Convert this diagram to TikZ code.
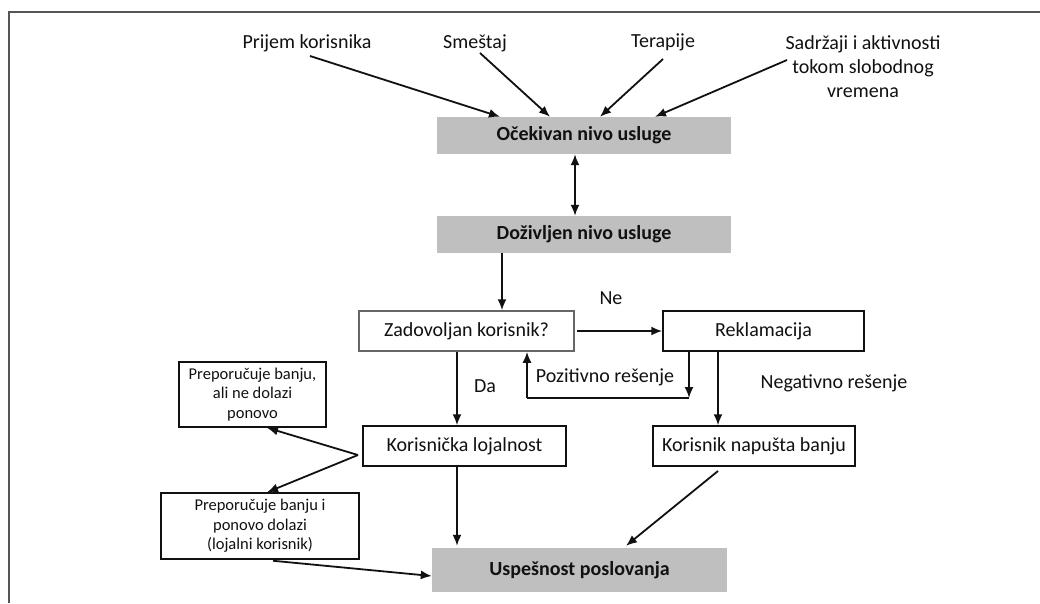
\documentclass[tikz,border=0pt]{standalone}
\usepackage{fontspec}
\setmainfont{Carlito}
\usetikzlibrary{arrows.meta}
\definecolor{boxgray}{HTML}{BFBFBF}
\definecolor{framegray}{HTML}{555555}
\definecolor{txt}{HTML}{111111}
\tikzset{
  arr/.style={line width=1.8pt, draw=txt, -{Latex[length=11pt,width=9pt]}},
  plain/.style={line width=1.8pt, draw=txt},
  graybox/.style={fill=boxgray, draw=none, inner sep=0pt, text=txt, font=\fontsize{20}{24}\selectfont\bfseries},
  wbox/.style={draw=txt, line width=1.5pt, fill=white, inner sep=0pt, text=txt, font=\fontsize{20}{24}\selectfont},
  sbox/.style={draw=txt, line width=1.5pt, fill=white, inner sep=0pt, text=txt, align=center, font=\fontsize{16.5}{19.5}\selectfont},
  lbl/.style={inner sep=0pt, text=txt, align=center, font=\fontsize{20}{24}\selectfont}
}
\begin{document}
\begin{tikzpicture}[x=1pt,y=-1pt]
\useasboundingbox (0,0) rectangle (1040,603);
\fill[white] (0,0) rectangle (1040,603);
% frame (left and top only)
\draw[framegray, line width=1.8pt] (9,603) -- (9,12) -- (1040,12);

% top labels
\node[lbl] (pk) at (307,43) {Prijem korisnika};
\node[lbl] (sm) at (475,43) {Smeštaj};
\node[lbl] (te) at (663,42) {Terapije};
\node[lbl] (sa) at (863,67) {Sadržaji i aktivnosti\\tokom slobodnog\\vremena};

% gray boxes
\node[graybox, minimum width=294pt, minimum height=37pt] (oce) at (584,135.5) {Očekivan nivo usluge};
\node[graybox, minimum width=294pt, minimum height=37pt] (doz) at (584,234.5) {Doživljen nivo usluge};
\node[graybox, minimum width=295pt, minimum height=44pt] (usp) at (579.5,570) {Uspešnost poslovanja};

% white boxes
\node[wbox, draw=gray!80!black, minimum width=215pt, minimum height=40pt] (zad) at (466.5,331) {Zadovoljan korisnik?};
\node[wbox, minimum width=201pt, minimum height=40pt] (rek) at (763.5,331) {Reklamacija};
\node[wbox, minimum width=203pt, minimum height=40pt] (kl) at (464.5,446) {Korisnička lojalnost};
\node[wbox, minimum width=202pt, minimum height=40pt] (kn) at (754,446) {Korisnik napušta banju};
\node[sbox, minimum width=147pt, minimum height=65pt] (b1) at (252.5,394.5) {Preporučuje banju,\\ali ne dolazi\\ponovo};
\node[sbox, minimum width=198pt, minimum height=66pt] (b2) at (260,526) {Preporučuje banju i\\ponovo dolazi\\(lojalni korisnik)};

% edge labels
\node[lbl] (ne) at (611,298) {Ne};
\node[lbl] (da) at (485,386) {Da};
\node[lbl] (poz) at (605,377) {Pozitivno rešenje};
\node[lbl] (neg) at (834,383) {Negativno rešenje};

% coordinates
\coordinate (pks) at (310,56);
\coordinate (sms) at (480,53);
\coordinate (tes) at (663,59);
\coordinate (sas) at (787,60);
\coordinate (loopR) at (689,398);
\coordinate (loopL) at (527,398);
\coordinate (klL) at (358,455);
\coordinate (kns) at (718,471);

% arrows into Ocekivan
\draw[arr] (pks) -- (oce.north -| 500,0);
\draw[arr] (sms) -- (oce.north -| 550,0);
\draw[arr] (tes) -- (oce.north -| 600,0);
\draw[arr] (sas) -- (oce.north -| 655,0);

% double arrow
\draw[arr, {Latex[length=11pt,width=9pt]}-{Latex[length=11pt,width=9pt]}] (oce.south -| 575,0) -- (doz.north -| 575,0);

% main flow
\draw[arr] (doz.south -| 502,0) -- (zad.north -| 502,0);
\draw[arr] ([xshift=2pt]zad.east) -- (rek.west);
\draw[arr] (rek.south -| loopR) -- (loopR);
\draw[plain] (loopR) -- (loopL);
\draw[arr] (loopL) -- (zad.south -| loopL);
\draw[arr] (rek.south -| 718,0) -- (kn.north -| 718,0);
\draw[arr] (zad.south -| 457,0) -- (kl.north -| 457,0);
\draw[arr] (kl.south -| 457,0) -- ([yshift=2pt]usp.north -| 457,0);
\draw[arr] (klL) -- (b1.south -| 267,0);
\draw[arr] (klL) -- (b2.north -| 267,0);
\draw[arr] ([yshift=-1pt]b2.south -| 273,0) -- (usp.west |- 0,576);
\draw[arr] (kns) -- ([yshift=2pt]usp.north -| 626,0);
\end{tikzpicture}
\end{document}
